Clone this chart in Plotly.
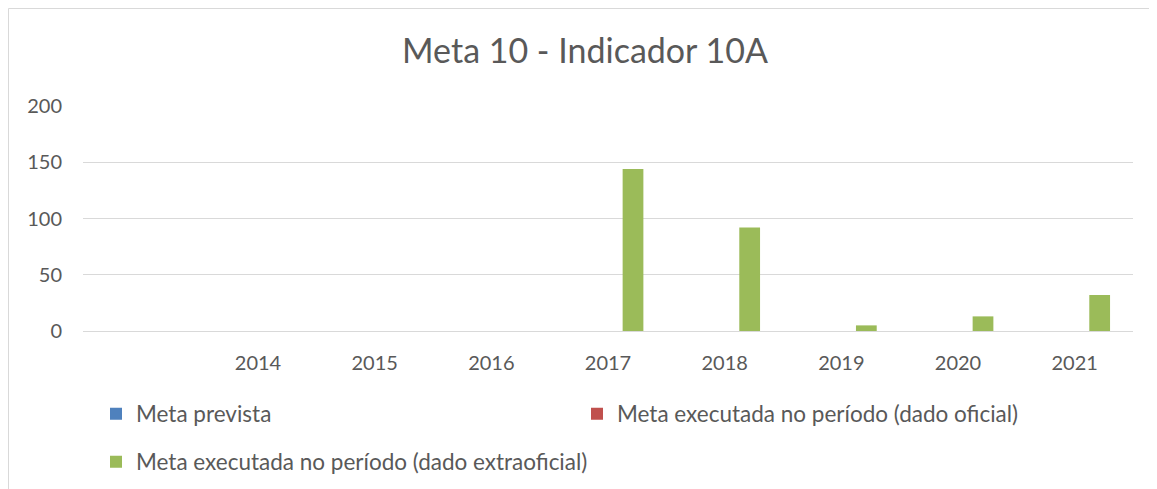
import plotly.graph_objects as go

categories = [" ", "2014", "2015", "2016", "2017", "2018", "2019", "2020", "2021"]
meta_prevista = [None, None, None, None, None, None, None, None, None]
meta_oficial = [None, None, None, None, None, None, None, None, None]
meta_extraoficial = [None, None, None, None, 144, 92, 5, 13, 32]

names = ["Meta prevista", "Meta executada no período (dado oficial)",
         "Meta executada no período (dado extraoficial)"]
colors = ["#4F81BD", "#C0504D", "#9BBB59"]
series = [meta_prevista, meta_oficial, meta_extraoficial]
legends = ["legend", "legend2", "legend3"]

FONT = "Lato, Carlito, Calibri, sans-serif"
GRAY = "#595959"
OFF = 8  # default page body margin
W, H = 1157 - OFF, 489 - OFF
L, R, T, B = 75, 24, 98, 158

fig = go.Figure()
for name, col, vals, lg in zip(names, colors, series, legends):
    fig.add_trace(go.Bar(x=categories, y=vals, name=name, marker_color=col,
                         marker_line_width=0, legend=lg, showlegend=True))

def cx(px):
    return (px - OFF) / W

def cy(py):
    return 1 - (py - OFF) / H

def leg(px, py):
    return dict(xref="container", yref="container", x=cx(px), y=cy(py),
                xanchor="left", yanchor="middle", bgcolor="rgba(0,0,0,0)",
                font=dict(family=FONT, size=22.5, color=GRAY), borderwidth=0)

PW, PH = W - L - R, H - T - B

fig.update_layout(
    width=W, height=H,
    margin=dict(l=L, r=R, t=T, b=B, autoexpand=False),
    paper_bgcolor="white", plot_bgcolor="white",
    barmode="group", bargap=0.357, bargroupgap=0.17,
    title=dict(text="Meta 10 - Indicador 10A", xref="container", yref="container",
               x=cx(585), y=cy(51), xanchor="center", yanchor="middle",
               font=dict(family=FONT, size=34, color=GRAY)),
    font=dict(family=FONT, color=GRAY),
    legend=leg(96, 414),
    legend2=leg(577, 414),
    legend3=leg(96, 462),
    xaxis=dict(type="category", showgrid=False, showline=True, linecolor="#d9d9d9",
               linewidth=1, ticks="", tickfont=dict(family=FONT, size=20, color=GRAY),
               ticklabelstandoff=14, zeroline=False, tickangle=0, automargin=False),
    yaxis=dict(range=[0, 200], tickvals=[0, 50, 100, 150, 200], showgrid=True,
               gridcolor="#d9d9d9", gridwidth=1, zeroline=False, showline=False,
               ticks="", tickfont=dict(family=FONT, size=20, color=GRAY),
               ticklabelstandoff=20, automargin=False),
    shapes=[dict(type="rect", xref="paper", yref="paper",
                 x0=(0.5 - L) / PW, x1=(W + 5 - L) / PW,
                 y0=(H - B - (H + 5)) / PH, y1=(H - B - 0.5) / PH,
                 line=dict(color="#d9d9d9", width=1), fillcolor="rgba(0,0,0,0)",
                 layer="below")],
)

fig.write_html("out.html")
